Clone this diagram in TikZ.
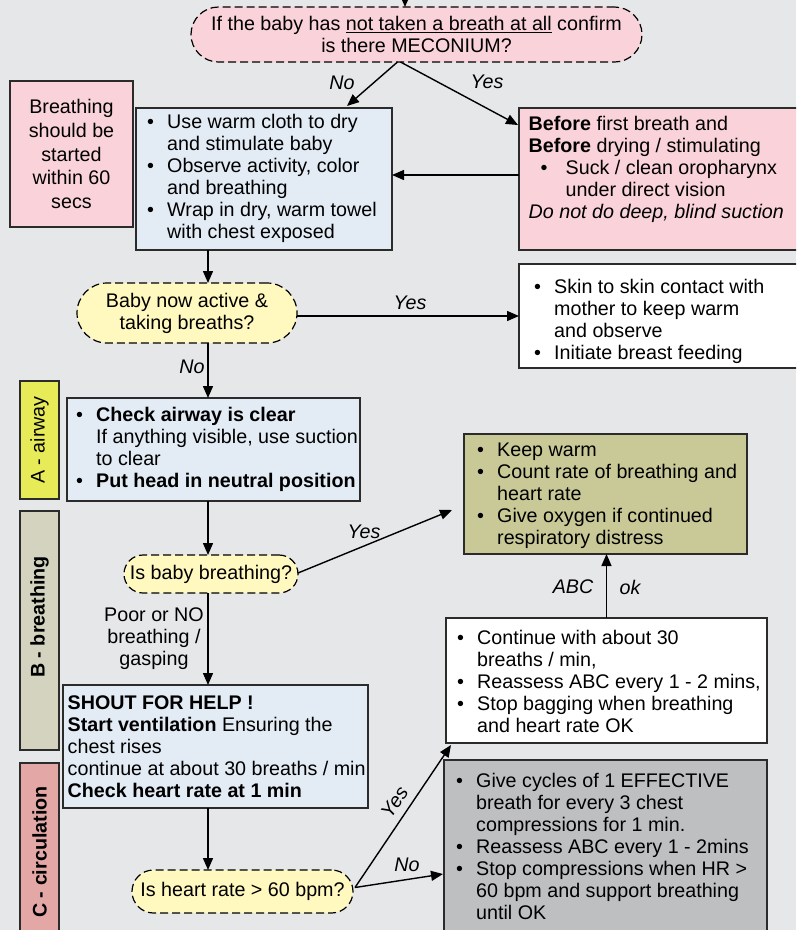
\documentclass[tikz,border=0pt]{standalone}
\usepackage{fontspec}
\setmainfont{Liberation Sans}
\usetikzlibrary{calc,arrows.meta}
\definecolor{bgc}{HTML}{E6E7E9}
\definecolor{pinkf}{HTML}{FAD2DA}
\definecolor{bluef}{HTML}{E3EBF5}
\definecolor{pilly}{HTML}{FFF8BF}
\definecolor{olivef}{HTML}{C9C998}
\definecolor{grayf}{HTML}{BEBFC1}
\definecolor{acol}{HTML}{E8EB58}
\definecolor{bcol}{HTML}{D3D3BF}
\definecolor{ccol}{HTML}{E3A8A6}
\definecolor{linec}{HTML}{2B2B2B}
\newcommand\tf{\fontsize{19.7}{22}\selectfont}
\newcommand\bu{\makebox[20pt][l]{•}}
\newcommand\ind{\hspace*{20pt}}
\begin{document}
\begin{tikzpicture}[x=1pt,y=-1pt,
  box/.style={draw=linec, line width=1.3pt, anchor=north west, inner sep=0pt, outer sep=0pt},
  pill/.style={draw=black, dash pattern=on 8pt off 4pt, line width=1.2pt, fill=pilly, align=center, inner sep=0pt, outer sep=0pt, font=\tf},
  tx/.style={anchor=north west, inner sep=0pt, align=left, font=\tf},
  lab/.style={font=\tf\itshape, inner sep=0pt},
  side/.style={rotate=90, font=\tf, inner sep=0pt},
  arr/.style={-{Triangle[length=12pt,width=10pt]}, line width=1.4pt}]
\useasboundingbox (0,0) rectangle (796,930);
\clip (0,0) rectangle (796,930);
\fill[bgc] (0,0) rectangle (796,930);

% boxes
\node[box, fill=pinkf, minimum width=123pt, minimum height=146pt, align=center, font=\fontsize{19.7}{23.7}\selectfont] (pl) at (10,81) {Breathing\\should be\\started\\within 60\\secs};
\node[box, fill=bluef, minimum width=256pt, minimum height=142pt] (b1) at (136,108) {};
\node[box, fill=pinkf, minimum width=281pt, minimum height=142pt] (pr) at (519,108) {};
\node[box, fill=white, minimum width=281pt, minimum height=104pt] (w1) at (519,264) {};
\node[box, fill=bluef, minimum width=293pt, minimum height=103pt] (b2) at (67,398) {};
\node[box, fill=olivef, minimum width=283pt, minimum height=120pt] (ol) at (464,434) {};
\node[box, fill=bluef, minimum width=305pt, minimum height=123pt] (b3) at (63,685) {};
\node[box, fill=white, minimum width=321pt, minimum height=125pt] (w2) at (446,618) {};
\node[box, fill=grayf, minimum width=323pt, minimum height=190pt] (g) at (444,760) {};
\node[box, fill=acol, minimum width=39pt, minimum height=118pt] (sa) at (20,381) {};
\node[box, fill=bcol, minimum width=39pt, minimum height=239pt] (sb) at (20,511) {};
\node[box, fill=ccol, minimum width=39pt, minimum height=190pt] (sc) at (20,763) {};

% side labels
\node[side] (la) at (39.5,440) {A - airway};
\node[side, font=\tf\bfseries] (lb) at (39.5,617) {B - breathing};
\node[side, font=\tf\bfseries] (lc) at (39.5,852) {C - circulation};

% pills
\node[pill, fill=pinkf, minimum width=451pt, minimum height=55pt, rounded corners=27.5pt] (top) at (416.5,34.5) {If the baby has \underline{not taken a breath at all} confirm\\is there MECONIUM?};
\node[pill, minimum width=220pt, minimum height=60pt, rounded corners=30pt] (p1) at (187,313) {Baby now active \&\\taking breaths?};
\node[pill, minimum width=174pt, minimum height=38pt, rounded corners=19pt] (p2) at (211,574) {Is baby breathing?};
\node[pill, minimum width=221pt, minimum height=43pt, rounded corners=21.5pt] (p3) at (242.5,891.5) {Is heart rate > 60 bpm?};

% box texts
\node[tx] (t1) at ($(b1.north west)+(11,4.6)$) {\strut\bu Use warm cloth to dry\\ \ind and stimulate baby\\ \bu Observe activity, color\\ \ind and breathing\\ \bu Wrap in dry, warm towel\\ \ind with chest exposed};
\node[tx] (t2) at ($(pr.north west)+(9.5,6.6)$) {\strut\textbf{Before} first breath and\\ \textbf{Before} drying / stimulating\\ \hspace*{12pt}\makebox[25pt][l]{•}Suck / clean oropharynx\\ \hspace*{37pt}under direct vision\\ \textit{Do not do deep, blind suction}};
\node[tx] (t3) at ($(w1.north west)+(15,13.6)$) {\strut\bu Skin to skin contact with\\ \ind mother to keep warm\\ \ind and observe\\ \bu Initiate breast feeding};
\node[tx] (t4) at ($(b2.north west)+(9,7.6)$) {\strut\bu\textbf{Check airway is clear}\\ \ind If anything visible, use suction\\ \ind to clear\\ \bu\textbf{Put head in neutral position}};
\node[tx] (t5) at ($(ol.north west)+(13,6.6)$) {\strut\bu Keep warm\\ \bu Count rate of breathing and\\ \ind heart rate\\ \bu Give oxygen if continued\\ \ind respiratory distress};
\node[tx] (t6) at ($(b3.north west)+(4.5,8.6)$) {\strut\textbf{SHOUT FOR HELP !}\\ \textbf{Start ventilation} Ensuring the\\ chest rises\\ continue at about 30 breaths / min\\ \textbf{Check heart rate at 1 min}};
\node[tx] (t7) at ($(w2.north west)+(11,10.6)$) {\strut\bu Continue with about 30\\ \ind breaths / min,\\ \bu Reassess ABC every 1 - 2 mins,\\ \bu Stop bagging when breathing\\ \ind and heart rate OK};
\node[tx] (t8) at ($(g.north west)+(12,11.6)$) {\strut\bu Give cycles of 1 EFFECTIVE\\ \ind breath for every 3 chest\\ \ind compressions for 1 min.\\ \bu Reassess ABC every 1 - 2mins\\ \bu Stop compressions when HR >\\ \ind 60 bpm and support breathing\\ \ind until OK};

% connectors
\coordinate (in) at (405,0);
\coordinate (sp) at (208,0);
\draw[arr] (in) -- (in |- top.north);
\draw[arr] ($(top.south)+(-19,0)$) -- ($(b1.north east)+(-45,-2)$);
\draw[arr] ($(top.south)+(-16,0)$) -- ($(pr.north west)+(-1,17)$);
\draw[arr] ($(pr.north west)+(0,67)$) -- ($(b1.north east)+(0,67)$);
\draw[arr] (b1.south -| sp) -- (p1.north -| sp);
\draw[arr] ($(p1.east)+(0,3)$) -- ($(w1.north west)+(0,52)$);
\draw[arr] (p1.south -| sp) -- (b2.north -| sp);
\draw[arr] (b2.south -| sp) -- (p2.north -| sp);
\draw[arr] ($(p2.east)+(0,-1)$) -- ($(ol.north west)+(-12,76)$);
\draw[arr] (p2.south -| sp) -- (b3.north -| sp);
\draw[arr] (b3.south -| sp) -- (p3.north -| sp);
\draw[arr] ($(p3.east)+(2,-4)$) -- ($(w2.south west)+(5,2)$);
\draw[arr] ($(p3.east)+(2,-4)$) -- ($(g.north west)+(-1,114)$);
\draw[arr] (w2.north) -- (w2.north |- ol.south);

% labels
\node[lab] (lno1) at (342,83) {No};
\node[lab] (lyes1) at (487,82) {Yes};
\node[lab] (lyes2) at (410,303) {Yes};
\node[lab] (lno2) at (192,367) {No};
\node[lab] (lyes3) at (364,532) {Yes};
\node[font=\tf, align=center, inner sep=0pt] (lpoor) at (154,639) {Poor or NO\\breathing /\\gasping};
\node[lab, rotate=56] (lyes4) at (394.5,802) {Yes};
\node[lab] (lno3) at (407,865) {No};
\node[lab] (labc) at (573,587) {ABC};
\node[lab] (lok) at (630,587) {ok};
\end{tikzpicture}
\end{document}
